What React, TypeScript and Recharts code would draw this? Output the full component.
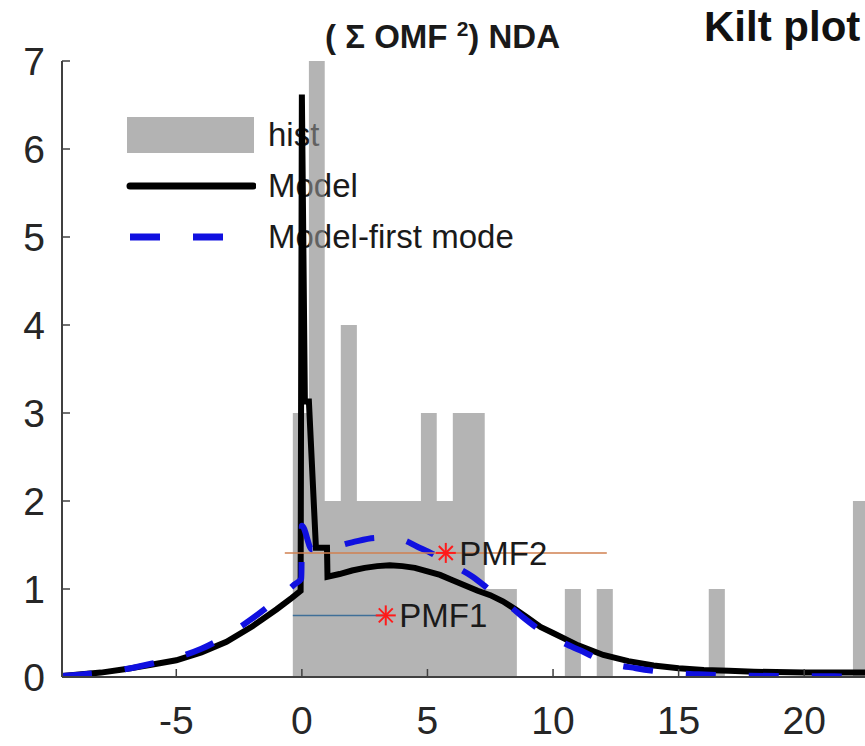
import React from "react";
import { ComposedChart, Area, Line, Scatter, XAxis, YAxis, LabelList } from "recharts";

// histogram bins (left edges + final right edge) and counts
const histEdges = [
  -0.36, 0.28, 0.91, 1.55, 2.19, 2.83, 3.46, 4.1, 4.74, 5.37, 6.01, 6.65, 7.28,
  7.92, 8.56, 9.2, 9.83, 10.47, 11.11, 11.74, 12.38, 13.02, 13.65, 14.29, 14.93,
  15.57, 16.2, 16.84, 17.48, 18.11, 18.75, 19.39, 20.02, 20.66, 21.3, 21.94, 22.57,
];
const histCounts = [
  3, 7, 2, 4, 2, 2, 2, 2, 3, 2, 3, 3, 1, 1, 0, 0, 0, 1, 0, 1, 0, 0, 0, 0, 0, 0,
  1, 0, 0, 0, 0, 0, 0, 0, 0, 2,
];

// Model (full mixture)
const modelX = [
  -9.55, -8, -7, -6, -5, -4, -3, -2, -1, -0.4, -0.05, 0, 0.12, 0.28, 0.56, 1.0,
  1.02, 1.5, 2, 2.5, 3, 3.5, 4, 4.5, 5, 5.5, 6, 6.5, 7, 7.5, 8, 8.5, 9, 9.5, 10,
  11, 12, 13, 14, 15, 16, 17, 18, 20, 22.42,
];
const modelY = [
  0.01, 0.05, 0.09, 0.14, 0.19, 0.28, 0.4, 0.57, 0.77, 0.9, 0.98, 6.62, 3.13,
  3.13, 1.47, 1.47, 1.14, 1.17, 1.21, 1.24, 1.26, 1.27, 1.26, 1.24, 1.2, 1.16,
  1.1, 1.04, 0.98, 0.93, 0.86, 0.77, 0.67, 0.57, 0.5, 0.36, 0.25, 0.18, 0.13,
  0.1, 0.08, 0.07, 0.06, 0.05, 0.05,
];

// Model - first mode
const firstModeX = [
  -9.55, -8, -7, -6, -5, -4, -3, -2, -1, -0.3, -0.02, 0, 0.4, 1.0, 2, 3, 3.5, 4,
  4.6, 5.2, 5.6, 6.2, 6.8, 7.3, 7.8, 8.3, 8.8, 9.5, 10.4, 11.1, 12.1, 13.3, 14.6,
  15.8, 17.5, 20, 22.42,
];
const firstModeY = [
  0.01, 0.05, 0.09, 0.15, 0.22, 0.32, 0.47, 0.66, 0.88, 1.05, 1.12, 1.72, 1.45,
  1.46, 1.53, 1.58, 1.58, 1.56, 1.48, 1.4, 1.33, 1.24, 1.14, 1.03, 0.91, 0.8,
  0.68, 0.53, 0.39, 0.3, 0.17, 0.1, 0.05, 0.03, 0.015, 0.01, 0.005,
];

const pmfNames = ["PMF1", "PMF2"];
const pmfX = [3.34, 5.73];
const pmfY = [0.7, 1.41];
const pmfLo = [-0.36, -0.68];
const pmfHi = [3.34, 12.14];
const pmfColors = ["#3f6f98", "#d08050"];

const xTicks = [-5, 0, 5, 10, 15, 20];
const yTicks = [0, 1, 2, 3, 4, 5, 6, 7];

const histData = histEdges.map((x, i) => ({
  x,
  y: histCounts[Math.min(i, histCounts.length - 1)],
}));
const modelData = modelX.map((x, i) => ({ x, y: modelY[i] }));
const firstModeData = firstModeX.map((x, i) => ({ x, y: firstModeY[i] }));
const pmfPoints = pmfNames.map((name, i) => ({ x: pmfX[i], y: pmfY[i], name }));

const FONT = "'Liberation Sans', Arial, Helvetica, sans-serif";
const AXIS = "#404040";

const Asterisk = (props: any) => {
  const { cx, cy } = props;
  const r = 10;
  const d = 7;
  return (
    <g stroke="#ff1a1a" strokeWidth={2}>
      <line x1={cx - r} y1={cy} x2={cx + r} y2={cy} />
      <line x1={cx} y1={cy - r} x2={cx} y2={cy + r} />
      <line x1={cx - d} y1={cy - d} x2={cx + d} y2={cy + d} />
      <line x1={cx - d} y1={cy + d} x2={cx + d} y2={cy - d} />
    </g>
  );
};

const LegendRow = ({ top, label, icon }: { top: number; label: string; icon: React.ReactNode }) => (
  <div style={{ position: "absolute", left: 126, top, height: 40, display: "flex", alignItems: "center" }}>
    <svg width={130} height={40}>{icon}</svg>
    <span style={{ marginLeft: 12, fontSize: 33, color: "#1a1a1a", fontFamily: FONT }}>{label}</span>
  </div>
);

export default function App() {
  return (
    <div style={{ position: "absolute", left: 0, top: 0, width: 865, height: 746, background: "#fff", overflow: "hidden" }}>
      {/* titles and legend sit under the plotted data */}
      <div style={{ position: "absolute", left: 0, top: 0, width: 865, height: 746, fontFamily: FONT }}>
        <div style={{ position: "absolute", left: 325, top: 17, fontSize: 33, fontWeight: "bold", color: "#1a1a1a", whiteSpace: "nowrap" }}>
          ( Σ OMF <sup style={{ fontSize: 21 }}>2</sup>) NDA
        </div>
        <div style={{ position: "absolute", left: 704, top: 3, fontSize: 42, fontWeight: "bold", color: "#111", whiteSpace: "nowrap" }}>
          Kilt plot
        </div>
        <LegendRow top={115} label="hist" icon={<rect x={1} y={2} width={127} height={36} fill="#b3b3b3" />} />
        <LegendRow top={166} label="Model" icon={<line x1={4} y1={20} x2={127} y2={20} stroke="#000" strokeWidth={7} strokeLinecap="round" />} />
        <LegendRow
          top={217}
          label="Model-first mode"
          icon={<line x1={4} y1={20} x2={127} y2={20} stroke="#1010e0" strokeWidth={7} strokeDasharray="30 33" />}
        />
      </div>
      <div style={{ position: "absolute", left: 0, top: 0 }}>
        <ComposedChart width={865} height={746} margin={{ top: 61, right: 0, bottom: 0, left: 0 }}>
          <XAxis
            type="number"
            dataKey="x"
            domain={[-9.55, 22.42]}
            allowDataOverflow
            ticks={xTicks}
            interval={0}
            height={69}
            tickSize={-8}
            tickMargin={37}
            axisLine={{ stroke: AXIS, strokeWidth: 2 }}
            tickLine={{ stroke: AXIS, strokeWidth: 1.5 }}
            tick={{ fontSize: 39, fill: "#262626", fontFamily: FONT }}
          />
          <XAxis
            xAxisId="top"
            orientation="top"
            type="number"
            dataKey="x"
            domain={[-9.55, 22.42]}
            allowDataOverflow
            ticks={xTicks}
            interval={0}
            height={0}
            tickSize={-8}
            tickFormatter={() => ""}
            axisLine={{ stroke: AXIS, strokeWidth: 2 }}
            tickLine={{ stroke: AXIS, strokeWidth: 1.5 }}
          />
          <YAxis
            type="number"
            dataKey="y"
            domain={[0, 7]}
            allowDataOverflow
            ticks={yTicks}
            interval={0}
            width={62}
            tickSize={-8}
            tickMargin={25}
            axisLine={{ stroke: AXIS, strokeWidth: 2 }}
            tickLine={{ stroke: AXIS, strokeWidth: 1.5 }}
            tick={{ fontSize: 39, fill: "#262626", fontFamily: FONT }}
          />
          <Area
            data={histData}
            dataKey="y"
            type="stepAfter"
            fill="#8a8a8a"
            fillOpacity={0.64}
            stroke="none"
            isAnimationActive={false}
          />
          <Line
            data={modelData}
            dataKey="y"
            type="linear"
            stroke="#000"
            strokeWidth={6}
            dot={false}
            isAnimationActive={false}
          />
          <Line
            data={firstModeData}
            dataKey="y"
            type="monotone"
            stroke="#1010e0"
            strokeWidth={6}
            strokeDasharray="30 33"
            dot={false}
            isAnimationActive={false}
          />
          {pmfNames.map((name, i) => (
            <Line
              key={name}
              data={[
                { x: pmfLo[i], y: pmfY[i] },
                { x: pmfHi[i], y: pmfY[i] },
              ]}
              dataKey="y"
              stroke={pmfColors[i]}
              strokeWidth={1.5}
              dot={false}
              isAnimationActive={false}
            />
          ))}
          <Scatter data={pmfPoints} shape={<Asterisk />} isAnimationActive={false}>
            <LabelList dataKey="name" position="right" offset={9} fontSize={33} fill="#1a1a1a" fontFamily={FONT} />
          </Scatter>
        </ComposedChart>
      </div>
    </div>
  );
}
